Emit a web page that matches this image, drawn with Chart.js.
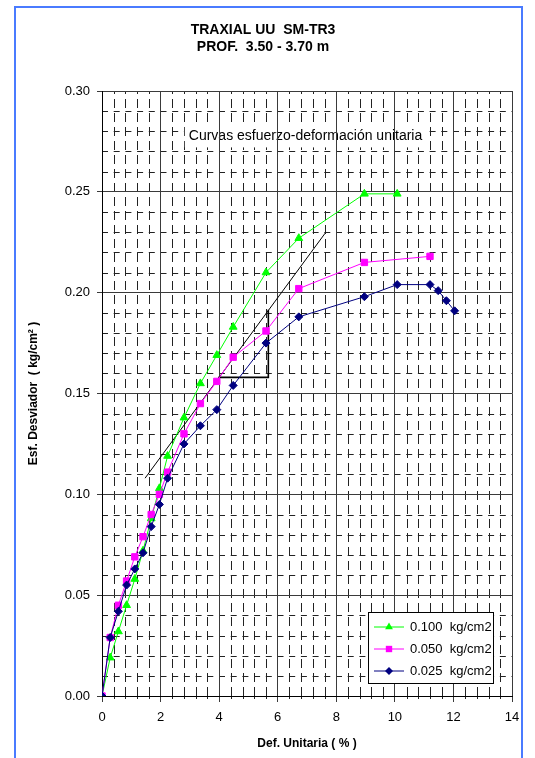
<!DOCTYPE html>
<html>
<head>
<meta charset="utf-8">
<script src="https://cdn.jsdelivr.net/npm/chart.js@4.4.1/dist/chart.umd.min.js"></script>
<style>
    body { margin: 0; background: #fff; }
    #wrap { position: relative; width: 535px; height: 758px; overflow: hidden; }
    #frame {
        position: absolute; left: 14px; top: 6px; width: 505px; height: 800px;
        border: 2px solid #4a7bff; pointer-events: none;
    }
    canvas { position: absolute; left: 0; top: 0; }
</style>
</head>
<body>
<div id="wrap">
    <canvas id="triaxChart" width="535" height="758"></canvas>
    <div id="frame"></div>
</div>
<script>
// Deformacion unitaria (%) y esfuerzo desviador (kg/cm2) por presion de confinamiento
const strain100 = [0, 0.28, 0.56, 0.84, 1.12, 1.40, 1.68, 1.96, 2.24, 2.80, 3.36, 3.92, 4.48, 5.60, 6.72, 8.96, 10.08];
const stress100 = [0, 0.019, 0.032, 0.045, 0.058, 0.072, 0.088, 0.103, 0.119, 0.138, 0.155, 0.169, 0.183, 0.210, 0.227, 0.249, 0.249];

const strain050 = [0, 0.28, 0.56, 0.84, 1.12, 1.40, 1.68, 1.96, 2.24, 2.80, 3.36, 3.92, 4.48, 5.60, 6.72, 8.96, 11.20];
const stress050 = [0, 0.029, 0.045, 0.057, 0.069, 0.079, 0.090, 0.100, 0.111, 0.130, 0.145, 0.156, 0.168, 0.181, 0.202, 0.215, 0.218];

const strain025 = [0, 0.28, 0.56, 0.84, 1.12, 1.40, 1.68, 1.96, 2.24, 2.80, 3.36, 3.92, 4.48, 5.60, 6.72, 8.96, 10.08, 11.20, 11.48, 11.76, 12.04];
const stress025 = [0, 0.029, 0.042, 0.055, 0.063, 0.071, 0.084, 0.095, 0.108, 0.125, 0.134, 0.142, 0.154, 0.175, 0.188, 0.198, 0.204, 0.204, 0.201, 0.196, 0.191];

// tangente y triangulo de referencia
const tangentX = [1.47, 7.62];
const tangentY = [0.108, 0.2295];
const triangleX = [3.97, 5.68, 5.68];
const triangleY = [0.158, 0.158, 0.1915];

const seriesLabels = ['0.100  kg/cm2', '0.050  kg/cm2', '0.025  kg/cm2'];
const noteText = 'Curvas esfuerzo-deformación unitaria';

const FONT = '"Liberation Sans", Arial, sans-serif';

function toPoints(xs, ys) {
    return xs.map((x, i) => ({ x: x, y: ys[i] }));
}

// dashed minor grid + note label, drawn under the main grid
const minorGrid = {
    id: 'minorGrid',
    beforeDraw(chart) {
        const { ctx, chartArea: a, scales: { x, y } } = chart;
        ctx.save();
        ctx.strokeStyle = '#222';
        ctx.lineWidth = 1;

        ctx.setLineDash([9, 5]);
        for (let k = 1; k < 35; k++) {
            if (k % 5 === 0) continue;
            const px = Math.round(x.getPixelForValue(k * 0.4)) + 0.5;
            ctx.beginPath();
            ctx.moveTo(px, a.bottom);
            ctx.lineTo(px, a.top);
            ctx.stroke();
        }
        ctx.setLineDash([6, 5.7]);
        for (let k = 1; k < 30; k++) {
            if (k % 5 === 0) continue;
            const py = Math.round(y.getPixelForValue(k * 0.01)) + 0.5;
            ctx.beginPath();
            ctx.moveTo(a.left, py);
            ctx.lineTo(a.right, py);
            ctx.stroke();
        }
        // small ticks under the x axis
        ctx.setLineDash([]);
        for (let k = 1; k < 35; k++) {
            if (k % 5 === 0) continue;
            const px = Math.round(x.getPixelForValue(k * 0.4)) + 0.5;
            ctx.beginPath();
            ctx.moveTo(px, a.bottom);
            ctx.lineTo(px, a.bottom + 3);
            ctx.stroke();
        }

        // note with white background
        ctx.font = '14px ' + FONT;
        const cx = x.getPixelForValue(6.95);
        const cy = y.getPixelForValue(0.2775);
        const w = ctx.measureText(noteText).width;
        ctx.fillStyle = '#fff';
        ctx.fillRect(cx - w / 2 - 4, cy - 10, w + 8, 21);
        ctx.fillStyle = '#000';
        ctx.textAlign = 'center';
        ctx.textBaseline = 'middle';
        ctx.fillText(noteText, cx, cy);
        ctx.restore();
    }
};

function drawMarker(ctx, style, px, py, r) {
    ctx.beginPath();
    if (style === 'triangle') {
        ctx.moveTo(px, py - r);
        ctx.lineTo(px + r * 0.87, py + r * 0.5);
        ctx.lineTo(px - r * 0.87, py + r * 0.5);
    } else if (style === 'rect') {
        const s = r * Math.SQRT1_2;
        ctx.rect(px - s, py - s, 2 * s, 2 * s);
    } else {
        ctx.moveTo(px, py - r);
        ctx.lineTo(px + r, py);
        ctx.lineTo(px, py + r);
        ctx.lineTo(px - r, py);
    }
    ctx.closePath();
    ctx.fill();
}

// legend box inside the plot, lower right
const boxLegend = {
    id: 'boxLegend',
    afterDraw(chart) {
        const { ctx, chartArea: a } = chart;
        const w = 125, h = 71;
        const bx = a.right - 19 - w;
        const by = a.bottom - 13 - h;
        ctx.save();
        ctx.fillStyle = '#fff';
        ctx.fillRect(bx, by, w, h);
        ctx.strokeStyle = '#000';
        ctx.lineWidth = 1;
        ctx.strokeRect(Math.round(bx) + 0.5, Math.round(by) + 0.5, w, h);
        ctx.font = '13px ' + FONT;
        ctx.textBaseline = 'middle';
        ctx.textAlign = 'left';
        chart.data.datasets.slice(0, 3).forEach((ds, i) => {
            const ry = by + 15 + i * 22;
            ctx.strokeStyle = ds.borderColor;
            ctx.beginPath();
            ctx.moveTo(bx + 6, ry);
            ctx.lineTo(bx + 36, ry);
            ctx.stroke();
            ctx.fillStyle = ds.borderColor;
            drawMarker(ctx, ds.pointStyle, bx + 21, ry, ds.pointRadius);
            ctx.fillStyle = '#000';
            ctx.fillText(ds.label, bx + 42, ry);
        });
        ctx.restore();
    }
};

const ctx = document.getElementById('triaxChart');

new Chart(ctx, {
    type: 'line',
    data: {
        datasets: [
            {
                label: seriesLabels[0],
                data: toPoints(strain100, stress100),
                borderColor: '#00ff00',
                backgroundColor: '#00ff00',
                pointStyle: 'triangle',
                pointRadius: 4.5,
                borderWidth: 1,
                order: 3
            },
            {
                label: seriesLabels[1],
                data: toPoints(strain050, stress050),
                borderColor: '#ff00ff',
                backgroundColor: '#ff00ff',
                pointStyle: 'rect',
                pointRadius: 4.5,
                borderWidth: 1,
                order: 2
            },
            {
                label: seriesLabels[2],
                data: toPoints(strain025, stress025),
                borderColor: '#000080',
                backgroundColor: '#000080',
                pointStyle: 'rectRot',
                pointRadius: 4,
                borderWidth: 1,
                order: 1
            },
            {
                label: 'tangente',
                data: toPoints(tangentX, tangentY),
                borderColor: '#000',
                borderWidth: 1,
                pointRadius: 0,
                order: 4
            },
            {
                label: 'triangulo',
                data: toPoints(triangleX, triangleY),
                borderColor: '#000',
                borderWidth: 1.6,
                pointRadius: 0,
                order: 4
            }
        ]
    },
    options: {
        responsive: false,
        animation: false,
        events: [],
        layout: { padding: { left: 14, right: 23, top: 22, bottom: 4 } },
        elements: { line: { tension: 0, fill: false }, point: { borderWidth: 1 } },
        plugins: {
            legend: { display: false },
            tooltip: { enabled: false },
            title: {
                display: true,
                text: ['TRAXIAL UU  SM-TR3', 'PROF.  3.50 - 3.70 m'],
                color: '#000',
                font: { family: FONT, size: 14, weight: 'bold', lineHeight: '17px' },
                padding: { top: 0, bottom: 35 }
            }
        },
        scales: {
            x: {
                type: 'linear',
                min: 0,
                max: 14,
                afterFit(scale) { scale.height = 58; },
                ticks: {
                    stepSize: 2,
                    color: '#000',
                    padding: 8,
                    font: { family: FONT, size: 13 }
                },
                grid: { color: '#3a3a3a', lineWidth: 1, tickLength: 6 },
                border: { color: '#000' },
                title: {
                    display: true,
                    text: 'Def. Unitaria ( % )',
                    color: '#000',
                    font: { family: FONT, size: 12, weight: 'bold' },
                    padding: { top: 0, bottom: 3 }
                }
            },
            y: {
                type: 'linear',
                min: 0,
                max: 0.3,
                afterFit(scale) { scale.width = 88; },
                ticks: {
                    stepSize: 0.05,
                    color: '#000',
                    padding: 7,
                    font: { family: FONT, size: 13 },
                    callback: (v) => v.toFixed(2)
                },
                grid: { color: '#3a3a3a', lineWidth: 1, tickLength: 5 },
                border: { color: '#000' },
                title: {
                    display: true,
                    text: 'Esf. Desviador  ( kg/cm² )',
                    color: '#000',
                    font: { family: FONT, size: 12, weight: 'bold' },
                    padding: { top: 12, bottom: 0 }
                }
            }
        }
    },
    plugins: [minorGrid, boxLegend]
});
</script>
</body>
</html>
